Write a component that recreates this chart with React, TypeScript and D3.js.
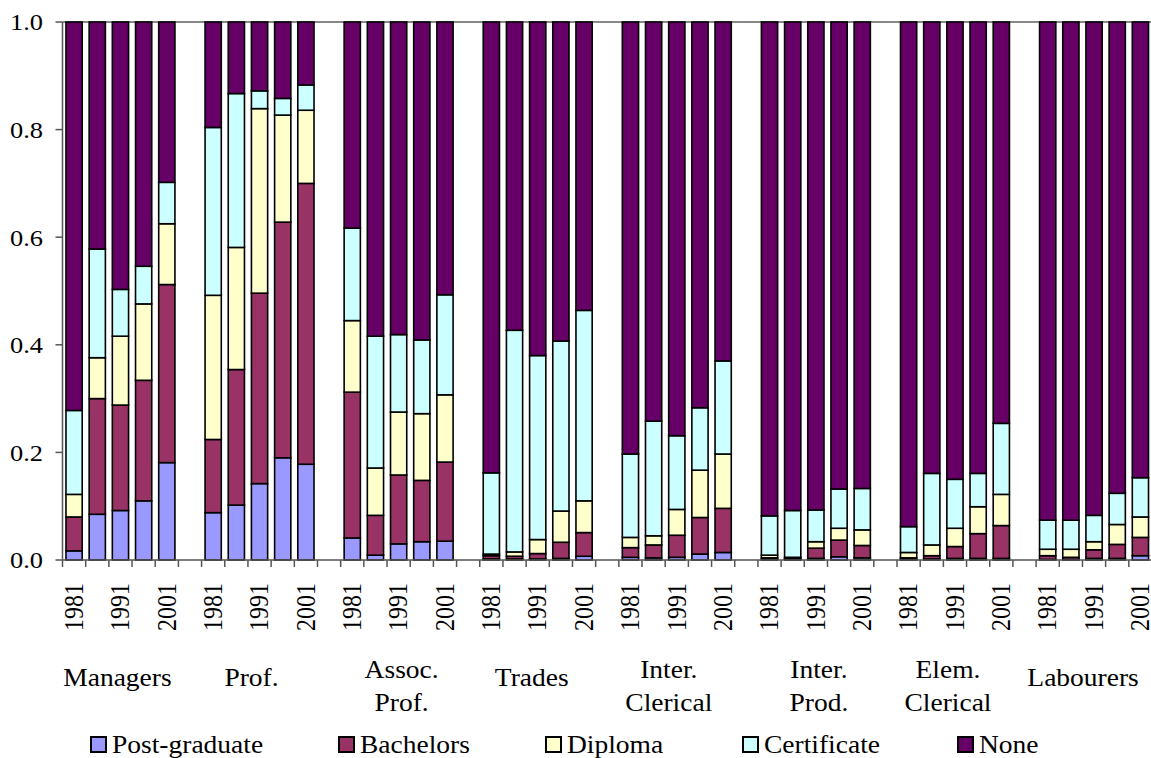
import * as d3 from 'd3';

// ── Data ──────────────────────────────────────────────────────────────────────
const YEARS = ['1981', '1986', '1991', '1996', '2001'];
const SHOWN_YEARS = ['1981', '1991', '2001'];
const GROUP_LABELS = [
  ['Managers'],
  ['Prof.'],
  ['Assoc.', 'Prof.'],
  ['Trades'],
  ['Inter.', 'Clerical'],
  ['Inter.', 'Prod.'],
  ['Elem.', 'Clerical'],
  ['Labourers'],
];
const SERIES = ['Post-graduate', 'Bachelors', 'Diploma', 'Certificate', 'None'];

// shares, 5 years per occupation group, in GROUP_LABELS order
const POSTGRAD = [
  0.017, 0.085, 0.092, 0.110, 0.181,
  0.088, 0.102, 0.142, 0.190, 0.178,
  0.041, 0.009, 0.030, 0.034, 0.035,
  0.002, 0.002, 0.002, 0.003, 0.007,
  0.005, 0.004, 0.005, 0.011, 0.014,
  0.001, 0.001, 0.003, 0.006, 0.004,
  0.001, 0.002, 0.003, 0.003, 0.003,
  0.001, 0.001, 0.003, 0.003, 0.008,
];
const BACHELORS = [
  0.063, 0.215, 0.196, 0.224, 0.331,
  0.136, 0.252, 0.354, 0.438, 0.522,
  0.271, 0.074, 0.128, 0.114, 0.147,
  0.006, 0.005, 0.010, 0.030, 0.044,
  0.018, 0.024, 0.041, 0.068, 0.082,
  0.003, 0.002, 0.019, 0.031, 0.023,
  0.003, 0.006, 0.022, 0.046, 0.061,
  0.007, 0.004, 0.016, 0.026, 0.034,
];
const DIPLOMA = [
  0.042, 0.076, 0.128, 0.142, 0.113,
  0.268, 0.227, 0.343, 0.199, 0.136,
  0.133, 0.088, 0.117, 0.124, 0.125,
  0.003, 0.008, 0.026, 0.058, 0.059,
  0.019, 0.017, 0.048, 0.088, 0.101,
  0.005, 0.002, 0.012, 0.022, 0.029,
  0.010, 0.020, 0.034, 0.050, 0.058,
  0.012, 0.015, 0.015, 0.037, 0.038,
];
const CERTIFICATE = [
  0.156, 0.202, 0.087, 0.070, 0.077,
  0.312, 0.286, 0.033, 0.031, 0.047,
  0.172, 0.245, 0.144, 0.137, 0.186,
  0.151, 0.412, 0.342, 0.316, 0.354,
  0.155, 0.213, 0.137, 0.116, 0.173,
  0.073, 0.087, 0.059, 0.073, 0.077,
  0.048, 0.133, 0.091, 0.062, 0.132,
  0.054, 0.054, 0.049, 0.058, 0.073,
];
const NONE = [
  0.722, 0.422, 0.497, 0.454, 0.298,
  0.196, 0.133, 0.128, 0.142, 0.117,
  0.383, 0.584, 0.581, 0.591, 0.507,
  0.838, 0.573, 0.620, 0.593, 0.536,
  0.803, 0.742, 0.769, 0.717, 0.630,
  0.918, 0.908, 0.907, 0.868, 0.867,
  0.938, 0.839, 0.850, 0.839, 0.746,
  0.926, 0.926, 0.917, 0.876, 0.847,
];
const Y_TICKS = [0, 0.2, 0.4, 0.6, 0.8, 1.0];

// ── Layout ────────────────────────────────────────────────────────────────────
const W = 1151;
const H = 758;
const X0 = 62.5;
const X1 = 1152;
const Y_TOP = 22;
const Y_BOT = 560;
const SX = 1.1; // the original rendering is stretched a bit horizontally
const FONT = 'Liberation Serif, DejaVu Serif, Noto Serif, serif';
const LEGEND_X = [90, 338, 545, 742, 957];
const LABEL_NUDGE = [-3, -8, 3, -6, -8, 3, -7, -11];

// ── Colors ────────────────────────────────────────────────────────────────────
const COLORS = ['#9999FF', '#993366', '#FFFFCC', '#CCFFFF', '#660066'];
const AXIS = '#555';

type Row = { key: string; [k: string]: number | string };

const rows: Row[] = [];
const slots: string[] = [];
GROUP_LABELS.forEach((_, g) => {
  YEARS.forEach((yr, i) => {
    const idx = g * YEARS.length + i;
    const key = `${g}-${yr}`;
    slots.push(key);
    rows.push({
      key,
      [SERIES[0]]: POSTGRAD[idx],
      [SERIES[1]]: BACHELORS[idx],
      [SERIES[2]]: DIPLOMA[idx],
      [SERIES[3]]: CERTIFICATE[idx],
      [SERIES[4]]: NONE[idx],
    });
  });
  if (g < GROUP_LABELS.length - 1) slots.push(`gap-${g}`);
});

export default function App() {
  const x = d3.scaleBand<string>().domain(slots).range([X0, X1]).paddingInner(0.3).paddingOuter(0.15);
  const y = d3.scaleLinear().domain([0, 1]).range([Y_BOT, Y_TOP]);
  const step = x.step();
  const bw = x.bandwidth();

  const stacked = d3.stack<Row>().keys(SERIES).value((d, k) => d[k] as number)(rows);

  return (
    <svg
      width={W}
      height={H}
      viewBox={`0 0 ${W} ${H}`}
      style={{ position: 'absolute', left: 0, top: 0, background: '#fff' }}
      fontFamily={FONT}
    >
      {/* top border */}
      <line x1={X0} x2={X1} y1={Y_TOP} y2={Y_TOP} stroke="#888" strokeWidth={2} />

      {/* bars */}
      {stacked.map((layer, si) => (
        <g key={SERIES[si]}>
          {layer.map(d => {
            const y0 = y(d[0]);
            const y1 = y(d[1]);
            return (
              <rect
                key={d.data.key}
                x={x(d.data.key)}
                y={y1}
                width={bw}
                height={Math.max(0, y0 - y1)}
                fill={COLORS[si]}
                stroke="#000"
                strokeWidth={1.6}
              />
            );
          })}
        </g>
      ))}

      {/* y axis */}
      <line x1={X0} x2={X0} y1={Y_TOP} y2={Y_BOT} stroke={AXIS} strokeWidth={1.5} />
      {Y_TICKS.map(v => (
        <g key={v}>
          <line x1={X0 - 7} x2={X0} y1={y(v)} y2={y(v)} stroke={AXIS} strokeWidth={1.5} />
          <text
            transform={`translate(43,${y(v)}) scale(${SX},1)`}
            textAnchor="end"
            dy="0.35em"
            fontSize={24}
            fill="#000"
          >
            {v.toFixed(1)}
          </text>
        </g>
      ))}

      {/* x axis */}
      <line x1={X0} x2={X1} y1={Y_BOT} y2={Y_BOT} stroke={AXIS} strokeWidth={1.5} />
      {d3.range(slots.length + 1).map(i => (
        <line
          key={i}
          x1={X0 + i * step}
          x2={X0 + i * step}
          y1={Y_BOT}
          y2={Y_BOT + 7}
          stroke={AXIS}
          strokeWidth={1.5}
        />
      ))}
      {slots
        .filter(k => !k.startsWith('gap') && SHOWN_YEARS.includes(k.split('-')[1]))
        .map(k => (
          <text
            key={k}
            transform={`translate(${(x(k) ?? 0) + bw / 2},583) scale(${SX},1) rotate(-90)`}
            textAnchor="end"
            dy="0.33em"
            fontSize={24}
            fill="#000"
          >
            {k.split('-')[1]}
          </text>
        ))}

      {/* group labels */}
      {GROUP_LABELS.map((lines, g) => {
        const first = x(`${g}-${YEARS[0]}`) ?? 0;
        const last = x(`${g}-${YEARS[YEARS.length - 1]}`) ?? 0;
        const cx = (first + last + bw) / 2 + LABEL_NUDGE[g];
        const baseY = lines.length === 1 ? 686 : 678;
        return (
          <text
            key={g}
            transform={`translate(${cx},${baseY}) scale(${SX},1)`}
            textAnchor="middle"
            fontSize={25}
            fill="#000"
          >
            {lines.map((ln, i) => (
              <tspan key={i} x={0} dy={i === 0 ? 0 : 33}>
                {ln}
              </tspan>
            ))}
          </text>
        );
      })}

      {/* legend */}
      {SERIES.map((s, i) => (
        <g key={s} transform={`translate(${LEGEND_X[i]},0)`}>
          <rect x={1} y={737} width={15} height={15} fill={COLORS[i]} stroke="#000" strokeWidth={2} />
          <text transform={`translate(22,753) scale(${SX},1)`} fontSize={25} fill="#000">
            {s}
          </text>
        </g>
      ))}
    </svg>
  );
}
